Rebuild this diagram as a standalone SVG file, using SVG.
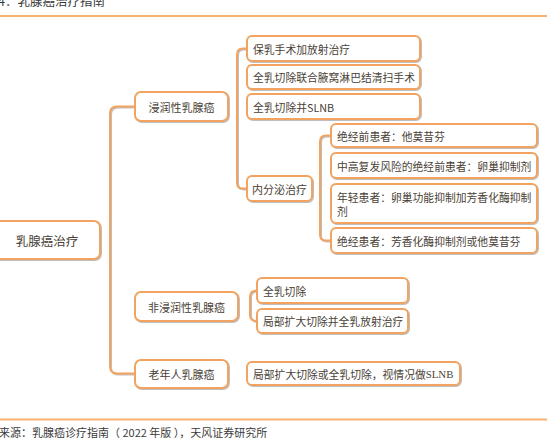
<svg xmlns="http://www.w3.org/2000/svg" width="547" height="445" viewBox="0 0 547 445">
<defs>
<filter id="sh" x="-10%" y="-10%" width="120%" height="130%">
<feDropShadow dx="1" dy="1" stdDeviation="0.6" flood-color="#888" flood-opacity="0.55"/>
</filter>
</defs>
<style>
.box{fill:#fff;stroke:#F2A35E;stroke-width:2;filter:url(#sh)}
.ln{fill:none;stroke:#F2A35E;stroke-width:2;filter:url(#sh)}
.t{font-family:"Noto Sans CJK SC","Microsoft YaHei",sans-serif;font-size:10.8px;fill:#4a3f36;dominant-baseline:central}
.c{text-anchor:middle;font-size:11px}
.rule{stroke:#F8B173;stroke-width:2}
.cap{font-family:"Noto Sans CJK SC",sans-serif;font-size:12.5px;fill:#3a3a3a}
.src{font-family:"Noto Sans CJK SC",sans-serif;font-size:11px;fill:#3a3a3a}
</style>
<rect width="547" height="445" fill="#fff"/>
<text class="cap" x="-2" y="6">4：乳腺癌治疗指南</text>
<line class="rule" x1="0" y1="16" x2="547" y2="16"/>
<line class="rule" x1="0" y1="419.5" x2="547" y2="419.5"/>
<text class="src" x="-1" y="437">来源：乳腺癌诊疗指南（ 2022 年版 ），天风证券研究所</text>

<g id="connectors">
<path class="ln" d="M100,240 H110"/>
<path class="ln" d="M135,106.5 H117 Q110,106.5 110,113.5 V366 Q110,373.5 117,373.5 H135"/>
<path class="ln" d="M110,306.5 H135"/>
<path class="ln" d="M228,106.5 H247"/>
<path class="ln" d="M247,48.5 H243 Q237,48.5 237,54.5 V182.5 Q237,188.5 243,188.5 H247"/>
<path class="ln" d="M237,77 H247"/>
<path class="ln" d="M312,188.5 H320"/>
<path class="ln" d="M331,135.5 H326 Q320,135.5 320,141.5 V234.5 Q320,240.5 326,240.5 H331"/>
<path class="ln" d="M320,165.5 H331"/>
<path class="ln" d="M320,203.5 H331"/>
<path class="ln" d="M238,306.5 H250"/>
<path class="ln" d="M257,290.5 Q250,290.5 250,296.5 V315 Q250,321 257,321"/>
<path class="ln" d="M228,374 H247"/>
</g>

<g id="root">
<rect class="box" x="-6" y="221" width="106" height="38" rx="6"/>
<text class="t c" x="47" y="240" style="font-size:12.5px">乳腺癌治疗</text>
</g>

<g id="invasive">
<rect class="box" x="135" y="92" width="93" height="29" rx="6"/>
<text class="t c" x="181.5" y="106.5">浸润性乳腺癌</text>
</g>
<g id="noninvasive">
<rect class="box" x="135" y="292" width="103" height="29" rx="6"/>
<text class="t c" x="186.5" y="306.5">非浸润性乳腺癌</text>
</g>
<g id="elderly">
<rect class="box" x="135" y="360" width="93" height="28" rx="6"/>
<text class="t c" x="181.5" y="374">老年人乳腺癌</text>
</g>

<g id="inv1">
<rect class="box" x="247" y="36" width="173" height="25" rx="5"/>
<text class="t" x="253" y="48.5">保乳手术加放射治疗</text>
</g>
<g id="inv2">
<rect class="box" x="247" y="65" width="173" height="24" rx="5"/>
<text class="t" x="253" y="77">全乳切除联合腋窝淋巴结清扫手术</text>
</g>
<g id="inv3">
<rect class="box" x="247" y="94" width="173" height="25" rx="5"/>
<text class="t" x="253" y="106.5">全乳切除并SLNB</text>
</g>
<g id="endo">
<rect class="box" x="247" y="176" width="65" height="25" rx="5"/>
<text class="t c" x="279.5" y="188.5">内分泌治疗</text>
</g>

<g id="endo1">
<rect class="box" x="331" y="124" width="206" height="23" rx="5"/>
<text class="t" x="337" y="135.5">绝经前患者：他莫昔芬</text>
</g>
<g id="endo2">
<rect class="box" x="331" y="153" width="206" height="25" rx="5"/>
<text class="t" x="337" y="165.5">中高复发风险的绝经前患者：卵巢抑制剂</text>
</g>
<g id="endo3">
<rect class="box" x="331" y="184" width="206" height="39" rx="5"/>
<text class="t" x="337" y="196.5">年轻患者：卵巢功能抑制加芳香化酶抑制</text>
<text class="t" x="337" y="210.5">剂</text>
</g>
<g id="endo4">
<rect class="box" x="331" y="228" width="206" height="25" rx="5"/>
<text class="t" x="337" y="240.5">绝经患者：芳香化酶抑制剂或他莫昔芬</text>
</g>

<g id="non1">
<rect class="box" x="257" y="278" width="151" height="25" rx="5"/>
<text class="t" x="263" y="290.5">全乳切除</text>
</g>
<g id="non2">
<rect class="box" x="257" y="309" width="151" height="24" rx="5"/>
<text class="t" x="263" y="321">局部扩大切除并全乳放射治疗</text>
</g>

<g id="eld1">
<rect class="box" x="247" y="362" width="213" height="23" rx="5"/>
<text class="t" x="253" y="373.5">局部扩大切除或全乳切除，视情况做<tspan style="font-family:'Liberation Serif',serif">SLNB</tspan></text>
</g>
</svg>
